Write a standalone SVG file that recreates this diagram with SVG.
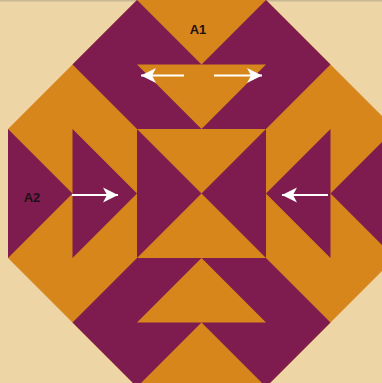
<svg xmlns="http://www.w3.org/2000/svg" width="382" height="383" viewBox="0 0 382 383">
  <style>
    .bg { fill: #EED5A6; }
    .orange { fill: #D6861B; }
    .purple { fill: #7E1C50; }
    .arrow { stroke: #FFFFFF; stroke-width: 2.2; fill: none; }
    .label { font-family: "Liberation Sans", Arial, sans-serif; font-weight: bold; font-size: 13px; fill: #1E1014; text-anchor: middle; }
  </style>
  <defs>
    <marker id="head" markerUnits="userSpaceOnUse" markerWidth="18" markerHeight="18" viewBox="-16 -9 18 18" refX="0" refY="0" orient="auto">
      <path d="M0,0 L-15,-7.5 L-11,0 L-15,7.5 Z" fill="#FFFFFF"/>
    </marker>
  </defs>
  <rect class="bg" x="0" y="0" width="382" height="383"/>
  <rect x="0" y="0" width="382" height="1.5" fill="#C9B896"/>
  <g id="block">
    <polygon class="orange" points="137,0 266,0 395,129 395,258 266,387 137,387 8,258 8,129"/>
    <polygon id="band-top-left" class="purple" points="137,0 201.5,64.5 137,64.5 201.5,129 137,129 72.5,64.5"/>
    <polygon id="band-top-right" class="purple" points="266,0 201.5,64.5 266,64.5 201.5,129 266,129 330.5,64.5"/>
    <polygon id="band-bottom-left" class="purple" points="137,387 201.5,322.5 137,322.5 201.5,258 137,258 72.5,322.5"/>
    <polygon id="band-bottom-right" class="purple" points="266,387 201.5,322.5 266,322.5 201.5,258 266,258 330.5,322.5"/>
    <polygon id="a2-left" class="purple" points="8,129 72.5,193.5 8,258"/>
    <polygon id="inner-left" class="purple" points="72.5,129 137,193.5 72.5,258"/>
    <polygon id="center-left" class="purple" points="137,129 201.5,193.5 137,258"/>
    <polygon id="center-right" class="purple" points="266,129 201.5,193.5 266,258"/>
    <polygon id="inner-right" class="purple" points="330.5,129 266,193.5 330.5,258"/>
    <polygon id="outer-right" class="purple" points="395,129 330.5,193.5 395,258"/>
  </g>
  <g id="connectors">
    <line class="arrow" x1="184" y1="75.5" x2="141" y2="75.5" marker-end="url(#head)"/>
    <line class="arrow" x1="214" y1="75.5" x2="262" y2="75.5" marker-end="url(#head)"/>
    <line class="arrow" x1="72" y1="195" x2="118" y2="195" marker-end="url(#head)"/>
    <line class="arrow" x1="328" y1="195" x2="282" y2="195" marker-end="url(#head)"/>
  </g>
  <g id="labels">
    <text id="label-a1" class="label" x="198" y="34">A1</text>
    <text id="label-a2" class="label" x="32" y="202">A2</text>
  </g>
</svg>
